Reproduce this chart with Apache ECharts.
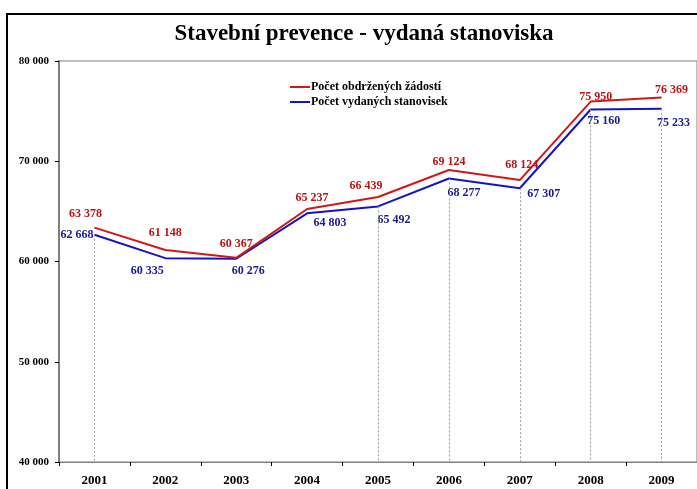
<!DOCTYPE html>
<html>
<head>
<meta charset="utf-8">
<script src="https://cdn.jsdelivr.net/npm/echarts@6/dist/echarts.min.js"></script>
<style>
  html, body { margin: 0; padding: 0; background: #fff; }
  #chart { width: 697px; height: 489px; }
</style>
</head>
<body>
<div id="chart"></div>
<script>
// data
const years = ['2001', '2002', '2003', '2004', '2005', '2006', '2007', '2008', '2009'];
const received = [63378, 61148, 60367, 65237, 66439, 69124, 68124, 75950, 76369];
const issued = [62668, 60335, 60276, 64803, 65492, 68277, 67307, 75160, 75233];
const seriesNames = ['Počet obdržených žádostí', 'Počet vydaných stanovisek'];
const dropYears = ['2001', '2005', '2006', '2007', '2008', '2009'];

const serif = '"Liberation Serif", "DejaVu Serif", serif';

// label nudges so the numbers sit roughly where the original put them
const redOffsets = [[-9, -3], [0, -6], [0, -3], [5, 0], [-12, 0], [0, 3], [2, -4], [5, 6], [10, 4]];
const blueOffsets = [null, [-18, 2], [12, 1], [23, -1], [16, 2], [15, 3], [24, -5], [13, 0], [12, 3]];

function fmt(v) {
    return String(v).replace(/\B(?=(\d{3})+(?!\d))/g, ' ');
}

let chart = echarts.init(document.getElementById('chart'));

let redData = received.map((v, i) => ({
    value: v,
    label: { offset: redOffsets[i] }
}));
let blueData = issued.map((v, i) => {
    if (!blueOffsets[i]) {
        return { value: v, label: { position: 'left', distance: 1 } };
    }
    return { value: v, label: { offset: blueOffsets[i] } };
});

let drops = dropYears.map(y => {
    let i = years.indexOf(y);
    return [{ coord: [i, issued[i]] }, { coord: [i, 40000] }];
});

let option = {
    backgroundColor: '#ffffff',
    animation: false,
    title: {
        text: 'Stavební prevence - vydaná stanoviska',
        left: 359,
        textAlign: 'center',
        top: 18,
        textStyle: {
            fontFamily: serif,
            fontSize: 23,
            fontWeight: 'bold',
            color: '#000'
        }
    },
    legend: {
        data: seriesNames,
        orient: 'vertical',
        left: 285,
        top: 76,
        icon: 'rect',
        itemWidth: 20,
        itemHeight: 2,
        itemGap: 3,
        textStyle: {
            fontFamily: serif,
            fontSize: 12,
            fontWeight: 'bold',
            color: '#000',
            padding: [0, 0, 0, -4]
        }
    },
    graphic: [{
        type: 'rect',
        shape: { x: 7, y: 14, width: 700, height: 490 },
        style: { fill: 'none', stroke: '#000', lineWidth: 2 },
        silent: true
    }],
    grid: {
        left: 59,
        top: 61,
        width: 641,
        height: 401,
        show: true,
        borderColor: '#7f7f7f',
        borderWidth: 1
    },
    xAxis: {
        type: 'category',
        data: years,
        boundaryGap: true,
        axisLine: { lineStyle: { color: '#7f7f7f', width: 1 } },
        axisTick: { show: true, length: 4, lineStyle: { color: '#000' } },
        axisLabel: {
            fontFamily: serif,
            fontSize: 13,
            fontWeight: 'bold',
            color: '#000',
            margin: 12
        },
        splitLine: { show: false }
    },
    yAxis: {
        type: 'value',
        min: 40000,
        max: 80000,
        interval: 10000,
        axisLine: { show: true, lineStyle: { color: '#7f7f7f', width: 2 } },
        axisTick: { show: true, length: 4, lineStyle: { color: '#000' } },
        axisLabel: {
            fontFamily: serif,
            fontSize: 11,
            fontWeight: 'bold',
            color: '#000',
            margin: 10,
            formatter: v => fmt(v)
        },
        splitLine: { show: false }
    },
    series: [{
        name: seriesNames[0],
        type: 'line',
        data: redData,
        symbol: 'circle',
        symbolSize: 0.1,
        showSymbol: true,
        color: '#d01818',
        lineStyle: { width: 2, color: '#d01818' },
        z: 3,
        label: {
            show: true,
            position: 'top',
            fontFamily: serif,
            fontSize: 12,
            fontWeight: 'bold',
            color: '#b81414',
            formatter: p => fmt(p.value)
        }
    }, {
        name: seriesNames[1],
        type: 'line',
        data: blueData,
        symbol: 'circle',
        symbolSize: 0.1,
        showSymbol: true,
        color: '#1414c0',
        lineStyle: { width: 2, color: '#1414c0' },
        z: 2,
        label: {
            show: true,
            position: 'bottom',
            fontFamily: serif,
            fontSize: 12,
            fontWeight: 'bold',
            color: '#1a1a90',
            formatter: p => fmt(p.value)
        },
        markLine: {
            silent: true,
            symbol: 'none',
            label: { show: false },
            lineStyle: { type: [2, 2], color: '#a0a0a0', width: 1 },
            data: drops
        }
    }]
};

chart.setOption(option);
</script>
</body>
</html>
